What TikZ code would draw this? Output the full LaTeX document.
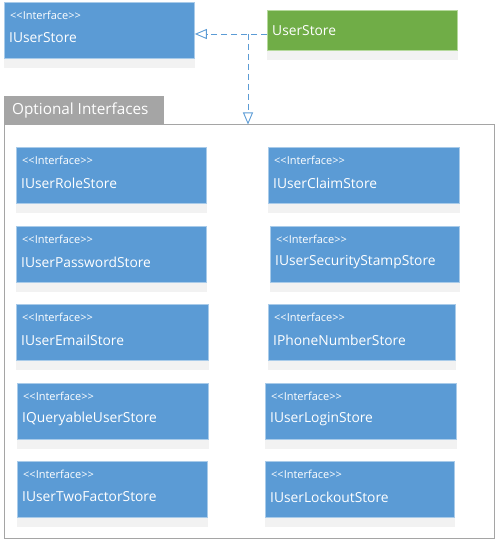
\documentclass[tikz,border=0pt]{standalone}
\usepackage{fontspec}
\setmainfont{Open Sans}
\usetikzlibrary{positioning,shapes,arrows,arrows.meta}
\definecolor{ifaceblue}{HTML}{5B9BD5}
\definecolor{ifaceedge}{HTML}{A9CBE9}
\definecolor{classgreen}{HTML}{70AD47}
\definecolor{classedge}{HTML}{B5D99C}
\definecolor{bandgray}{HTML}{F2F2F2}
\definecolor{tabgray}{HTML}{A5A5A5}
\def\bh{56pt}
\def\bd{9pt}
\tikzstyle{iface}=[draw=ifaceedge,fill=ifaceblue,rectangle,inner sep=0pt,
  minimum height=\bh,anchor=north west,line width=0.8pt]
\tikzstyle{class}=[draw=classedge,fill=classgreen,rectangle,inner sep=0pt,
  minimum height=40pt,anchor=north west,line width=0.8pt]
\tikzstyle{stereo}=[text=white,anchor=west,inner sep=0pt,font=\fontsize{11}{13}\selectfont]
\tikzstyle{ifname}=[text=white,anchor=west,inner sep=0pt,font=\fontsize{13.8}{16}\selectfont]
\tikzstyle{band}=[fill=bandgray]
\tikzstyle{realize}=[draw=ifaceblue,line width=0.9pt,dash pattern=on 6pt off 4pt]
\newcommand{\newInterface}[4]{%
  \node[iface,minimum width=#4pt](#1) at (#3) {};
  \fill[band] (#1.south west) rectangle ([yshift=-\bd]#1.south east);
  \node[stereo](#1-st) at ([xshift=6pt,yshift=-13.5pt]#1.north west)
    {<\kern0pt<Interface>\kern0pt>};
  \node[ifname](#1-nm) at ([xshift=5pt,yshift=-36pt]#1.north west) {#2};}

\begin{document}
\begin{tikzpicture}[x=1pt,y=-1pt,
      >={Triangle[open,length=12pt,width=10pt]}
      ]
      \useasboundingbox (0,0) rectangle (495,540);
      % top: interface and its class
      \newInterface{is}{IUserStore}{4,2}{190}
      \node[class,minimum width=190pt](us) at (267,10) {};
      \fill[band] (us.south west) rectangle ([yshift=-\bd]us.south east);
      \node[ifname](us-nm) at ([xshift=5pt]us.west) {UserStore};
      % optional interfaces package
      \node[draw=tabgray,line width=0.8pt,rectangle,inner sep=0pt,anchor=north west,
            minimum width=490pt,minimum height=413.5pt](frame) at (3.5,124.5) {};
      \node[fill=tabgray,rectangle,inner sep=0pt,minimum width=160pt,minimum height=28pt,
            above right=0pt and 0.5pt of frame.north west](tab) {};
      \node[text=white,anchor=west,inner sep=0pt,font=\fontsize{15.3}{18}\selectfont]
            (tab-nm) at ([xshift=8pt]tab.west) {Optional Interfaces};
      % left column
      \newInterface{roleS}{IUserRoleStore}{16,147}{190}
      \newInterface{pwdS}{IUserPasswordStore}{16,226}{190}
      \newInterface{emailS}{IUserEmailStore}{16,304}{192}
      \newInterface{queryS}{IQueryableUserStore}{17,383}{191}
      \newInterface{twofS}{IUserTwoFactorStore}{17,461}{190}
      % right column
      \newInterface{claimS}{IUserClaimStore}{268,147}{191}
      \newInterface{stampS}{IUserSecurityStampStore}{270,226}{189}
      \newInterface{phoneS}{IPhoneNumberStore}{268,304}{187}
      \newInterface{loginS}{IUserLoginStore}{265,383}{191}
      \newInterface{lockS}{IUserLockoutStore}{265,461}{189}
      % realizations
      \coordinate (j) at (248,34);
      \draw[realize,->] (us.west |- j) -- (is.east |- j);
      \draw[realize,->] (j) -- (frame.north -| j);
    \end{tikzpicture}
\end{document}
